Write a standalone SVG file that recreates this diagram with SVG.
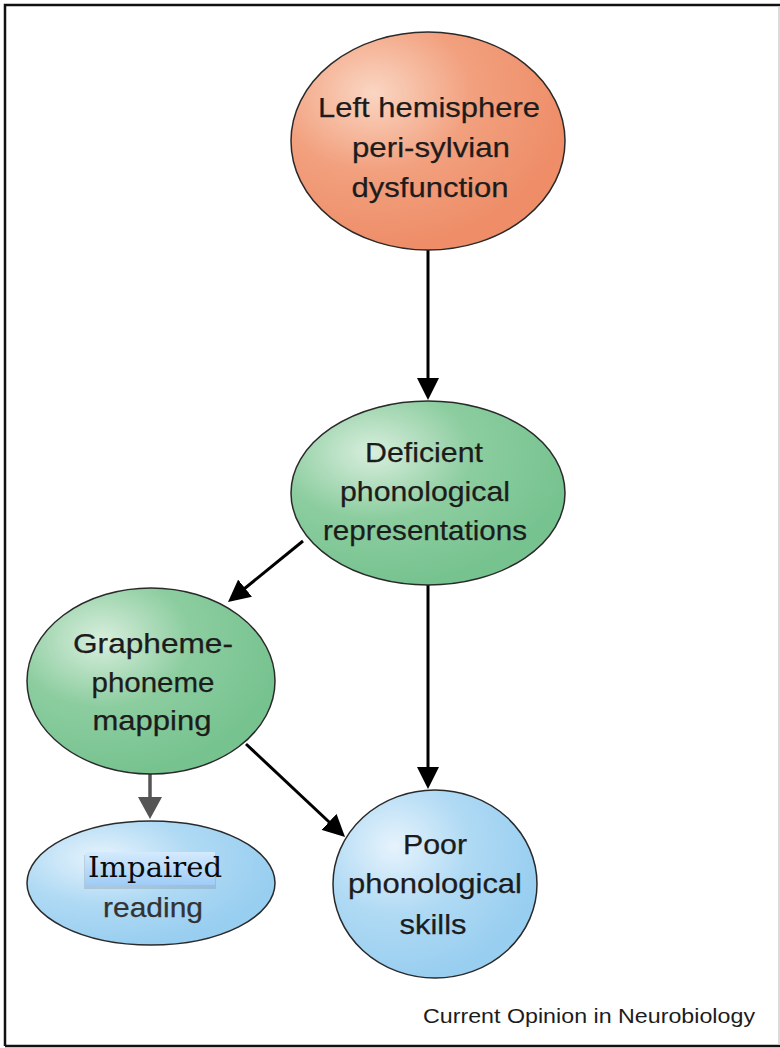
<svg xmlns="http://www.w3.org/2000/svg" width="780" height="1048" viewBox="0 0 780 1048">
  <style>
    .node { stroke: #2a2a2a; stroke-width: 1.5; }
    .lbl { font-family: "Liberation Sans", Arial, sans-serif; font-size: 28.5px; fill: #1c1c1c; text-anchor: middle; stroke: #1c1c1c; stroke-width: 0.25; }
    .serif { font-family: "DejaVu Serif", "Liberation Serif", serif; font-size: 27px; fill: #0a0a0a; text-anchor: middle; }
    .conn { stroke: #000; stroke-width: 3; fill: none; }
    .connGray { stroke: #555; stroke-width: 3.5; fill: none; }
    .foot { font-family: "Liberation Sans", Arial, sans-serif; font-size: 21px; fill: #1c1c1c; }
  </style>
  <defs>
    <radialGradient id="gOrange" cx="0.3" cy="0.28" r="0.72">
      <stop offset="0" stop-color="#fad6c3"/>
      <stop offset="0.5" stop-color="#f2a07e"/>
      <stop offset="1" stop-color="#ee8d68"/>
    </radialGradient>
    <radialGradient id="gGreen" cx="0.3" cy="0.28" r="0.72">
      <stop offset="0" stop-color="#d8eedd"/>
      <stop offset="0.5" stop-color="#8ccd9f"/>
      <stop offset="1" stop-color="#77c390"/>
    </radialGradient>
    <radialGradient id="gBlue" cx="0.3" cy="0.3" r="0.72">
      <stop offset="0" stop-color="#e6f3fc"/>
      <stop offset="0.5" stop-color="#b0daf4"/>
      <stop offset="1" stop-color="#98cef0"/>
    </radialGradient>
    <linearGradient id="gHi" x1="0" y1="0" x2="0" y2="1">
      <stop offset="0" stop-color="#d4eafd"/>
      <stop offset="1" stop-color="#9fccf6"/>
    </linearGradient>
    <marker id="arrow" markerUnits="userSpaceOnUse" viewBox="0 0 22 22" refX="14" refY="11" markerWidth="22" markerHeight="22" orient="auto">
      <path d="M0,0 L22,11 L0,22 z" fill="#000"/>
    </marker>
    <marker id="arrowGray" markerUnits="userSpaceOnUse" viewBox="0 0 22 24" refX="14" refY="12" markerWidth="22" markerHeight="24" orient="auto">
      <path d="M0,0 L22,12 L0,24 z" fill="#555"/>
    </marker>
  </defs>

  <rect width="780" height="1048" fill="#fff"/>
  <!-- frame -->
  <path d="M5,1046 V5 H780" fill="none" stroke="#111" stroke-width="2.5"/>
  <path d="M5,1046 H780" fill="none" stroke="#111" stroke-width="2.5"/>
  <path d="M779,6 V1045" fill="none" stroke="#cfcfcf" stroke-width="1.5"/>

  <g id="connectors">
    <line class="conn" x1="428" y1="250" x2="428" y2="392" marker-end="url(#arrow)"/>
    <line class="conn" x1="303" y1="541" x2="234.2" y2="597" marker-end="url(#arrow)"/>
    <line class="conn" x1="428" y1="585" x2="428" y2="781" marker-end="url(#arrow)"/>
    <line class="conn" x1="246" y1="744" x2="339.2" y2="831.5" marker-end="url(#arrow)"/>
    <line class="connGray" x1="150" y1="773" x2="150" y2="811" marker-end="url(#arrowGray)"/>
  </g>

  <g id="left-hemisphere">
    <ellipse class="node" cx="428" cy="141" rx="137" ry="109" fill="url(#gOrange)"/>
    <text class="lbl" x="429" y="117" textLength="222" lengthAdjust="spacingAndGlyphs">Left hemisphere</text>
    <text class="lbl" x="431" y="157" textLength="158" lengthAdjust="spacingAndGlyphs">peri-sylvian</text>
    <text class="lbl" x="430" y="197" textLength="157" lengthAdjust="spacingAndGlyphs">dysfunction</text>
  </g>

  <g id="deficient-phonological">
    <ellipse class="node" cx="428" cy="493" rx="137" ry="92" fill="url(#gGreen)"/>
    <text class="lbl" x="424" y="462" textLength="118" lengthAdjust="spacingAndGlyphs">Deficient</text>
    <text class="lbl" x="425" y="501" textLength="170" lengthAdjust="spacingAndGlyphs">phonological</text>
    <text class="lbl" x="425" y="540" textLength="204" lengthAdjust="spacingAndGlyphs">representations</text>
  </g>

  <g id="grapheme-phoneme">
    <ellipse class="node" cx="151" cy="681" rx="124" ry="93" fill="url(#gGreen)"/>
    <text class="lbl" x="153" y="653" textLength="160" lengthAdjust="spacingAndGlyphs">Grapheme-</text>
    <text class="lbl" x="153" y="692" textLength="123" lengthAdjust="spacingAndGlyphs">phoneme</text>
    <text class="lbl" x="152" y="730" textLength="119" lengthAdjust="spacingAndGlyphs">mapping</text>
  </g>

  <g id="impaired-reading">
    <ellipse class="node" cx="151" cy="883" rx="124" ry="62" fill="url(#gBlue)"/>
    <rect x="84" y="855" width="132" height="34" fill="#7f96aa" opacity="0.35"/>
    <rect x="85" y="852" width="130" height="33" fill="url(#gHi)"/>
    <text class="serif" x="155" y="877" textLength="134" lengthAdjust="spacingAndGlyphs">Impaired</text>
    <text class="lbl" x="153" y="917" textLength="100" lengthAdjust="spacingAndGlyphs" style="fill:#333;stroke:#333">reading</text>
  </g>

  <g id="poor-phonological-skills">
    <ellipse class="node" cx="435" cy="884" rx="102" ry="94" fill="url(#gBlue)"/>
    <text class="lbl" x="435" y="854" textLength="64" lengthAdjust="spacingAndGlyphs">Poor</text>
    <text class="lbl" x="435" y="893" textLength="174" lengthAdjust="spacingAndGlyphs">phonological</text>
    <text class="lbl" x="433" y="934" textLength="67" lengthAdjust="spacingAndGlyphs">skills</text>
  </g>

  <text class="foot" x="423" y="1023" textLength="332" lengthAdjust="spacingAndGlyphs">Current Opinion in Neurobiology</text>
</svg>
